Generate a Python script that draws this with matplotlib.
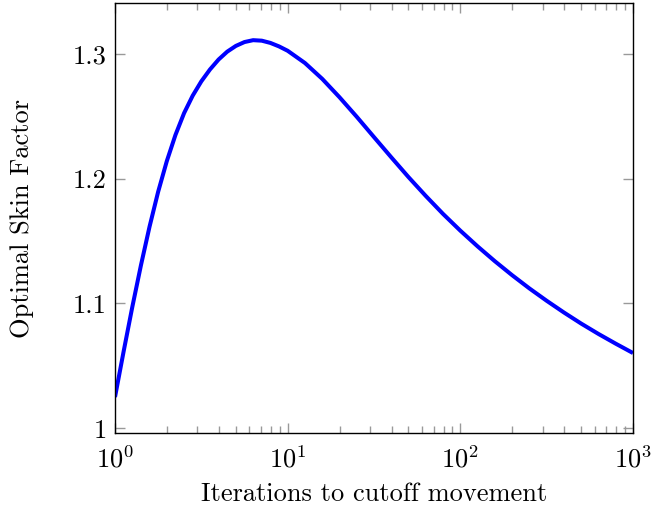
import matplotlib
matplotlib.use("Agg")
import matplotlib.pyplot as plt
from matplotlib.ticker import LogLocator, FixedLocator, FixedFormatter, NullFormatter

plt.rcParams['font.family'] = 'serif'
plt.rcParams['font.serif'] = ['cmr10']
plt.rcParams['mathtext.fontset'] = 'cm'
plt.rcParams['axes.formatter.use_mathtext'] = True

iterations = [1, 1.122, 1.259, 1.413, 1.585, 1.778, 1.995, 2.239, 2.512, 2.818, 3.162,
              3.548, 3.981, 4.467, 5.012, 5.623, 6.310, 7.079, 7.943, 8.913, 10,
              12.59, 15.85, 19.95, 25.12, 31.62, 39.81, 50.12, 63.10, 79.43, 100,
              125.9, 158.5, 199.5, 251.2, 316.2, 398.1, 501.2, 631.0, 794.3, 1000]
skin_factor = [1.0249, 1.0615, 1.0970, 1.1305, 1.1615, 1.1895, 1.2140, 1.2350, 1.2525,
               1.2665, 1.2780, 1.2875, 1.2955, 1.3018, 1.3064, 1.3095, 1.3110, 1.3106,
               1.3088, 1.3060, 1.3025,
               1.2927, 1.2800, 1.2653, 1.2496, 1.2333, 1.2171, 1.2012, 1.1861, 1.1717,
               1.1583, 1.1457, 1.1338, 1.1226, 1.1120, 1.1021, 1.0927, 1.0838, 1.0755,
               1.0677, 1.0602]
y_ticks = [1.0, 1.1, 1.2, 1.3]
y_tick_labels = ['1', '1.1', '1.2', '1.3']

fig = plt.figure(figsize=(6.52, 5.08), dpi=100)
ax = fig.add_axes([115/652, 75/508, 518/652, 430/508])
ax.plot(iterations, skin_factor, color='#0000ff', linewidth=2.9,
        solid_joinstyle='round', solid_capstyle='butt')
ax.set_xscale('log')
ax.set_xlim(1, 1000)
ax.set_ylim(0.9961, 1.3408)
ax.yaxis.set_major_locator(FixedLocator(y_ticks))
ax.yaxis.set_major_formatter(FixedFormatter(y_tick_labels))
ax.xaxis.set_major_locator(LogLocator(base=10, numticks=10))
ax.xaxis.set_minor_locator(LogLocator(base=10, subs=range(2, 10), numticks=20))
ax.xaxis.set_minor_formatter(NullFormatter())
ax.tick_params(which='both', direction='in', top=True, right=True, color='#999999', width=1.0)
ax.tick_params(which='major', length=7.5, labelsize=19)
ax.tick_params(axis='y', which='major', pad=6)
ax.tick_params(axis='x', which='major', pad=9)
ax.tick_params(which='minor', length=4.8)
for s in ax.spines.values():
    s.set_linewidth(1.0)
    s.set_color('black')
ax.set_xlabel('Iterations to cutoff movement', fontsize=19, labelpad=7)
ax.set_ylabel('Optimal Skin Factor', fontsize=19, labelpad=28)
fig.savefig('out.png', dpi=100)
